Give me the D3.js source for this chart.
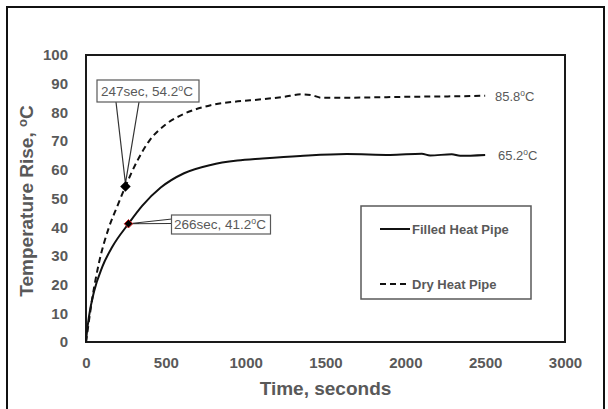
<!DOCTYPE html>
<html>
<head>
<meta charset="utf-8">
<script src="https://cdn.jsdelivr.net/npm/d3@7"></script>
<style>
  body { margin: 0; background: #fff; }
  text { font-family: "Liberation Sans", Arial, sans-serif; }
</style>
</head>
<body>
<svg width="608" height="409"></svg>
<script>
// time (s) / temperature rise (C)
var dryTime = [0, 10, 40, 81, 144, 196, 247, 322, 395, 499, 614, 781, 927, 1028, 1105, 1236, 1351, 1414, 1477, 1600, 1863, 2100, 2300, 2500];
var dryTemp = [0, 4, 15.5, 27.5, 40, 47.3, 54.2, 63.2, 70, 75.8, 79.5, 82.5, 83.7, 84.2, 84.6, 85.4, 86.3, 86.0, 85.1, 85.1, 85.3, 85.5, 85.6, 85.8];

var filledTime = [0, 5, 19, 50, 102, 165, 266, 353, 468, 614, 781, 948, 1105, 1341, 1633, 1905, 2103, 2155, 2291, 2343, 2500];
var filledTemp = [0, 3, 9, 17.5, 26.2, 33.2, 41.2, 47.5, 53.8, 58.8, 61.7, 63.2, 63.9, 64.8, 65.5, 65.2, 65.6, 65.0, 65.4, 64.9, 65.2];

var xTicks = [0, 500, 1000, 1500, 2000, 2500, 3000];
var yTicks = [0, 10, 20, 30, 40, 50, 60, 70, 80, 90, 100];

var seriesNames = ["Filled Heat Pipe", "Dry Heat Pipe"];
var dryPoint = { t: 247, v: 54.2 };
var filledPoint = { t: 266, v: 41.2 };
var dryEnd = 85.8, filledEnd = 65.2;

var svg = d3.select("svg"),
    grey = "#595959";

var x = d3.scaleLinear().domain([0, 3000]).range([86, 565]);
var y = d3.scaleLinear().domain([0, 100]).range([342, 55]);

// outer frame (bottom edge is off the picture)
svg.append("rect")
  .attr("x", 7).attr("y", 7).attr("width", 597).attr("height", 420)
  .attr("fill", "none").attr("stroke", "#111").attr("stroke-width", 2);

// plot area
svg.append("rect")
  .attr("x", x(0)).attr("y", y(100))
  .attr("width", x(3000) - x(0)).attr("height", y(0) - y(100))
  .attr("fill", "none").attr("stroke", "#1a1a1a").attr("stroke-width", 2);

// axes, labels only
var xAxis = svg.append("g")
  .attr("transform", "translate(0," + y(0) + ")")
  .call(d3.axisBottom(x).tickValues(xTicks).tickFormat(d3.format("d")).tickSize(0).tickPadding(15));
var yAxis = svg.append("g")
  .attr("transform", "translate(" + x(0) + ",0)")
  .call(d3.axisLeft(y).tickValues(yTicks).tickSize(0).tickPadding(18));

[xAxis, yAxis].forEach(function (a) {
  a.select(".domain").remove();
  a.selectAll("text")
    .attr("fill", grey)
    .style("font-family", "'Liberation Sans', Arial, sans-serif")
    .style("font-size", "15px")
    .style("font-weight", "bold");
});

svg.append("text")
  .attr("x", (x(0) + x(3000)) / 2).attr("y", 395)
  .attr("text-anchor", "middle")
  .attr("fill", grey)
  .style("font-size", "19px").style("font-weight", "bold")
  .text("Time, seconds");

var yTitle = svg.append("text")
  .attr("transform", "translate(33,201) rotate(-90)")
  .attr("text-anchor", "middle")
  .attr("fill", grey)
  .style("font-size", "19px").style("font-weight", "bold");
yTitle.append("tspan").text("Temperature Rise, ");
yTitle.append("tspan").attr("dy", -6).style("font-size", "13px").text("o");
yTitle.append("tspan").attr("dy", 6).text("C");

// curves
var line = d3.line()
  .x(function (d) { return x(d[0]); })
  .y(function (d) { return y(d[1]); })
  .curve(d3.curveMonotoneX);

svg.append("path")
  .datum(d3.zip(dryTime, dryTemp))
  .attr("d", line)
  .attr("fill", "none")
  .attr("stroke", "#111")
  .attr("stroke-width", 2)
  .attr("stroke-dasharray", "6,4");

svg.append("path")
  .datum(d3.zip(filledTime, filledTemp))
  .attr("d", line)
  .attr("fill", "none")
  .attr("stroke", "#111")
  .attr("stroke-width", 2);

// degree-style label helper
function degLabel(g, value, px, py, size) {
  var t = g.append("text")
    .attr("x", px).attr("y", py)
    .attr("fill", grey)
    .style("font-size", size + "px");
  t.append("tspan").text(value);
  t.append("tspan").attr("dy", -5).style("font-size", (size * 0.65) + "px").text("o");
  t.append("tspan").attr("dy", 5).text("C");
  return t;
}

// end values
degLabel(svg, d3.format(".1f")(dryEnd), 495, y(dryEnd) + 5, 13);
degLabel(svg, d3.format(".1f")(filledEnd), 498, y(filledEnd) + 5, 13);

// callout for dry point
var dx = x(dryPoint.t), dy = y(dryPoint.v);
svg.append("polyline")
  .attr("points", [[116, 102], [dx, dy - 3], [139, 102]].join(" "))
  .attr("fill", "none").attr("stroke", "#333").attr("stroke-width", 1.2);
svg.append("rect")
  .attr("x", 97).attr("y", 80).attr("width", 102).attr("height", 22)
  .attr("fill", "#fff").attr("stroke", grey).attr("stroke-width", 1.2);
degLabel(svg, dryPoint.t + "sec, " + dryPoint.v, 101, 96, 13.5);

svg.append("path")
  .attr("d", d3.symbol().type(d3.symbolDiamond2).size(70))
  .attr("transform", "translate(" + dx + "," + dy + ")")
  .attr("fill", "#000");

// callout for filled point
var fx = x(filledPoint.t), fy = y(filledPoint.v);
svg.append("polyline")
  .attr("points", [[172, 219], [fx, fy], [172, 223.5]].join(" "))
  .attr("fill", "none").attr("stroke", "#333").attr("stroke-width", 1.2);
svg.append("rect")
  .attr("x", 171.5).attr("y", 215).attr("width", 99).attr("height", 19)
  .attr("fill", "#fff").attr("stroke", grey).attr("stroke-width", 1.2);
degLabel(svg, filledPoint.t + "sec, " + filledPoint.v, 174, 229, 13.5);

svg.append("path")
  .attr("d", d3.symbol().type(d3.symbolDiamond2).size(45))
  .attr("transform", "translate(" + fx + "," + fy + ")")
  .attr("fill", "#000").attr("stroke", "#d02020").attr("stroke-width", 1);

// legend
svg.append("rect")
  .attr("x", 361).attr("y", 206).attr("width", 170).attr("height", 93)
  .attr("fill", "#fff").attr("stroke", grey).attr("stroke-width", 1.5);

var legend = svg.selectAll(".legend")
  .data(seriesNames)
  .enter().append("g")
  .attr("class", "legend")
  .attr("transform", function (d, i) { return "translate(380," + (229 + i * 55) + ")"; });

legend.append("line")
  .attr("x1", 0).attr("x2", 30)
  .attr("stroke", "#111").attr("stroke-width", 2)
  .attr("stroke-dasharray", function (d, i) { return i == 1 ? "6,4" : null; });

legend.append("text")
  .attr("x", 32).attr("y", 5)
  .attr("fill", grey)
  .style("font-size", "13px").style("font-weight", "bold")
  .text(function (d) { return d; });
</script>
</body>
</html>
